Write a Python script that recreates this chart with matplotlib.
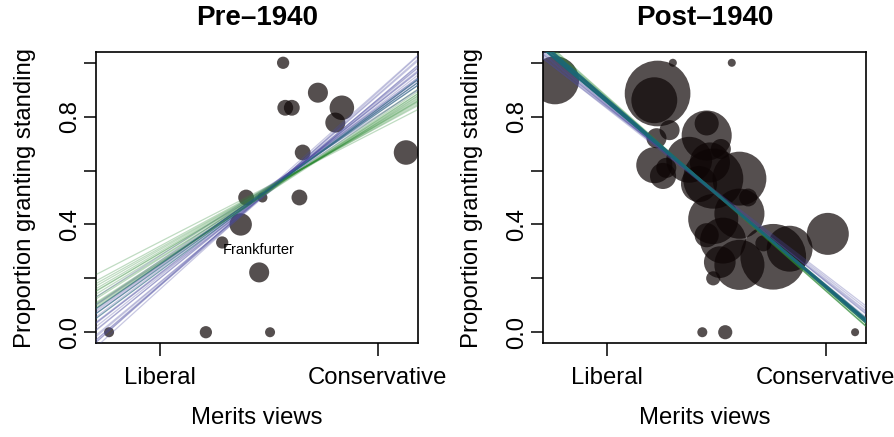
#!/usr/bin/env python3
"""Standing votes vs. merits views, before and after 1940."""

import numpy as np
import matplotlib.pyplot as plt

plt.rcParams["font.family"] = ["Liberation Sans", "DejaVu Sans"]

# justices: merits position, share granting standing, relative case weight
pre_x = [-1.47, -0.58, 0.01, 0.13, 0.15, 0.21, 0.45, 0.67, 0.61, 0.31, 1.26,
         -0.21, -0.06, 0.28, -0.26, -0.43, -0.09]
pre_y = [0.0, 0.0, 0.0, 1.0, 0.833, 0.833, 0.889, 0.833, 0.778, 0.667, 0.667,
         0.5, 0.5, 0.5, 0.4, 0.333, 0.222]
pre_w = [1, 1.5, 1, 1.5, 2.5, 2.5, 4, 6, 4, 2.5, 6, 2.5, 1, 2.5, 5, 1.5, 4]

post_x = [-1.48, -0.40, 0.14, -0.54, -0.57, -0.43, -0.55, -0.09, -0.09, -0.57,
          -0.46, -0.49, -0.25, -0.06, 0.04, 0.21, -0.03, 0.29, -0.03, 0.21,
          0.06, -0.09, 0.03, 0.21, -0.03, 0.52, 0.67, 0.43, 1.02, -0.13, 0.08,
          1.27, -0.16]
post_y = [0.935, 1.0, 1.0, 0.886, 0.861, 0.75, 0.72, 0.775, 0.73, 0.62, 0.61,
          0.58, 0.64, 0.63, 0.68, 0.57, 0.57, 0.50, 0.42, 0.44, 0.34, 0.36,
          0.26, 0.25, 0.20, 0.28, 0.31, 0.33, 0.365, 0.0, 0.0, 0.0, 0.55]
post_w = [23, 0.64, 0.64, 43, 21, 4, 4, 5.8, 25, 13, 4, 6.8, 21, 16, 4, 29,
          36, 3.2, 25, 25, 21, 5.8, 10, 25, 2, 43, 21, 2.6, 17.6, 1, 2, 0.64, 13]

# posterior draws of the fitted line: intercept (at x = 0) and slope
pre_blue_a = [0.530, 0.522, 0.538, 0.527, 0.534, 0.519, 0.541, 0.529, 0.525, 0.536,
              0.531, 0.520, 0.544, 0.528, 0.533, 0.524, 0.539, 0.526, 0.535, 0.530]
pre_blue_b = [0.310, 0.335, 0.290, 0.355, 0.300, 0.345, 0.275, 0.320, 0.365, 0.285,
              0.330, 0.305, 0.260, 0.350, 0.315, 0.340, 0.295, 0.325, 0.360, 0.270]
pre_green_a = [0.528, 0.535, 0.522, 0.540, 0.531, 0.526, 0.537, 0.520, 0.533, 0.529,
               0.543, 0.524, 0.532, 0.538, 0.527]
pre_green_b = [0.250, 0.235, 0.265, 0.220, 0.245, 0.275, 0.230, 0.260, 0.240, 0.255,
               0.207, 0.270, 0.238, 0.225, 0.262]
pre_mid_a = [0.530, 0.528, 0.533]
pre_mid_b = [0.290, 0.300, 0.280]

post_blue_a = [0.515, 0.510, 0.520, 0.512, 0.518, 0.508, 0.522, 0.514, 0.516, 0.511]
post_blue_b = [-0.325, -0.335, -0.315, -0.340, -0.320, -0.330, -0.310, -0.345,
               -0.328, -0.318]
post_green_a = [0.512, 0.516, 0.509, 0.514, 0.518, 0.511, 0.515, 0.513]
post_green_b = [-0.350, -0.345, -0.355, -0.360, -0.342, -0.348, -0.352, -0.357]
post_mid_a = [0.514, 0.512, 0.516, 0.513, 0.515, 0.511]
post_mid_b = [-0.344, -0.340, -0.347, -0.338, -0.350, -0.342]

x_ticks = [-1, 1]
x_ticklabels = ["Liberal", "Conservative"]
y_ticks = [0.0, 0.2, 0.4, 0.6, 0.8, 1.0]
y_ticklabels = ["0.0", "", "0.4", "", "0.8", ""]

XLIM = (-1.59, 1.37)
YLIM = (-0.04, 1.04)
FS = 17.2


def draw_lines(ax, a, b, color, alpha, lw=0.9):
    xs = np.array(XLIM)
    for ai, bi in zip(a, b):
        ax.plot(xs, ai + bi * xs, color=color, alpha=alpha, lw=lw, zorder=3,
                solid_capstyle="butt")


def style_axes(ax):
    ax.set_xlim(*XLIM)
    ax.set_ylim(*YLIM)
    ax.set_xticks(x_ticks)
    ax.set_xticklabels(x_ticklabels, fontsize=FS)
    ax.set_yticks(y_ticks)
    ax.set_yticklabels(y_ticklabels, fontsize=FS, rotation=90)
    for lbl in ax.get_yticklabels():
        lbl.set_va("center")
    ax.tick_params(axis="both", length=9, width=1.1, direction="out")
    ax.tick_params(axis="x", pad=8)
    ax.tick_params(axis="y", pad=2)
    for sp in ax.spines.values():
        sp.set_linewidth(1.2)


def panel(ax, xs, ys, ws, title):
    sizes = [52 * w for w in ws]
    ax.scatter(xs, ys, s=sizes, color="#0d0505", alpha=0.7, linewidths=0,
               zorder=2)
    style_axes(ax)
    fig = ax.figure
    bb = ax.get_position()
    cx = (bb.x0 + bb.x1) / 2
    fig.text(cx, 1 - 18 / 437, title, ha="center", va="center",
             fontsize=20, fontweight="bold")
    fig.text(cx, 1 - 418 / 437, "Merits views", ha="center", va="center",
             fontsize=FS)
    fig.text(bb.x0 - 71 / 895, (bb.y0 + bb.y1) / 2, "Proportion granting standing",
             ha="center", va="center", rotation=90, fontsize=FS)


fig = plt.figure(figsize=(8.95, 4.37), dpi=100)
ax1 = fig.add_axes([96 / 895, 94 / 437, 322 / 895, 291 / 437])
ax2 = fig.add_axes([543 / 895, 94 / 437, 323 / 895, 291 / 437])

panel(ax1, pre_x, pre_y, pre_w, "Pre\u20131940")
draw_lines(ax1, pre_blue_a, pre_blue_b, "#4a4aa0", 0.3)
draw_lines(ax1, pre_green_a, pre_green_b, "#2e8b35", 0.3)
draw_lines(ax1, pre_mid_a, pre_mid_b, "#1f5f7a", 0.6)
ax1.text(-0.09, 0.307, "Frankfurter", ha="center", va="center", fontsize=10.5,
         zorder=4)

panel(ax2, post_x, post_y, post_w, "Post\u20131940")
draw_lines(ax2, post_blue_a, post_blue_b, "#4a4aa0", 0.3)
draw_lines(ax2, post_green_a, post_green_b, "#2e8b35", 0.4)
draw_lines(ax2, post_mid_a, post_mid_b, "#1a6678", 0.75, lw=1.3)

fig.savefig("out.png", dpi=100)
